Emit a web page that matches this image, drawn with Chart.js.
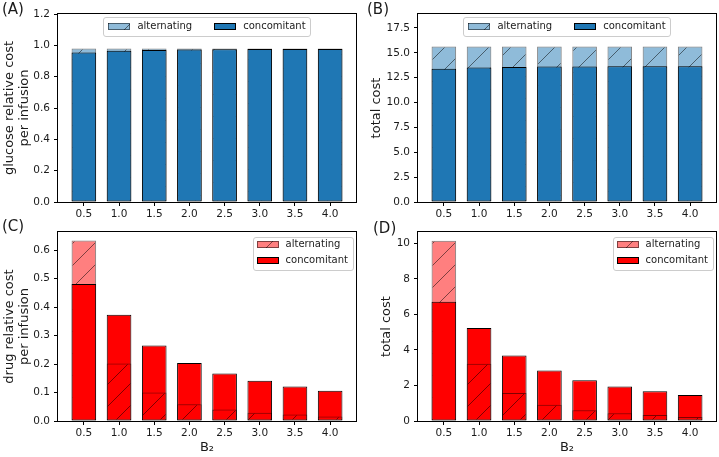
<!DOCTYPE html>
<html>
<head>
<meta charset="utf-8">
<script src="https://cdn.jsdelivr.net/npm/chart.js@4.4.1/dist/chart.umd.min.js"></script>
<style>
html,body{margin:0;padding:0;background:#fff;}
#wrap{position:relative;width:719px;height:457px;overflow:hidden;font-family:"DejaVu Sans",sans-serif;}
canvas{position:absolute;}
.lbl{position:absolute;font-size:15px;line-height:1;color:#1a1a1a;font-family:"DejaVu Sans",sans-serif;z-index:5;}
</style>
</head>
<body>
<div id="wrap">
  <canvas id="cA" width="360" height="228" style="left:0;top:0;width:360px;height:228px"></canvas>
  <canvas id="cB" width="359" height="228" style="left:360px;top:0;width:359px;height:228px"></canvas>
  <canvas id="cC" width="360" height="229" style="left:0;top:228px;width:360px;height:229px"></canvas>
  <canvas id="cD" width="359" height="229" style="left:360px;top:228px;width:359px;height:229px"></canvas>
  <div class="lbl" style="left:2px;top:2px">(A)</div>
  <div class="lbl" style="left:367px;top:2px">(B)</div>
  <div class="lbl" style="left:2px;top:219px">(C)</div>
  <div class="lbl" style="left:373px;top:221px">(D)</div>
</div>
<script>
// ---------------- data ----------------
const b2Values = [0.5, 1.0, 1.5, 2.0, 2.5, 3.0, 3.5, 4.0];
const seriesLabels = ['alternating', 'concomitant'];

const glucoseAlternating = [0.979, 0.979, 0.979, 0.979, 0.979, 0.979, 0.979, 0.979];
const glucoseConcomitant = [0.955, 0.966, 0.971, 0.973, 0.975, 0.976, 0.977, 0.977];

const glucoseTotalAlternating = [15.64, 15.64, 15.64, 15.64, 15.64, 15.64, 15.64, 15.64];
const glucoseTotalConcomitant = [13.39, 13.52, 13.56, 13.61, 13.63, 13.64, 13.64, 13.65];

const drugAlternating = [0.634, 0.202, 0.100, 0.059, 0.040, 0.029, 0.0225, 0.0155];
const drugConcomitant = [0.481, 0.373, 0.265, 0.204, 0.167, 0.141, 0.121, 0.106];

const drugTotalAlternating = [10.15, 3.22, 1.58, 0.92, 0.60, 0.44, 0.34, 0.23];
const drugTotalConcomitant = [6.72, 5.23, 3.69, 2.84, 2.29, 1.94, 1.67, 1.47];

const yTicksA = [0, 0.2, 0.4, 0.6, 0.8, 1.0, 1.2];
const yTicksB = [0, 2.5, 5, 7.5, 10, 12.5, 15, 17.5];
const yTicksC = [0, 0.1, 0.2, 0.3, 0.4, 0.5, 0.6];
const yTicksD = [0, 2, 4, 6, 8, 10];
const xTickValues = b2Values;
const xAxisTitle = 'B\u2082';

// ---------------- style ----------------
Chart.defaults.font.family = '"DejaVu Sans", sans-serif';
Chart.defaults.color = '#1a1a1a';

const X_MIN = 0.1325, X_MAX = 4.3675;

function hatch(fill, line) {
  const s = 22;
  const c = document.createElement('canvas');
  c.width = s; c.height = s;
  const g = c.getContext('2d');
  g.fillStyle = fill; g.fillRect(0, 0, s, s);
  g.strokeStyle = line; g.lineWidth = 1;
  g.beginPath();
  g.moveTo(-1, s + 1); g.lineTo(s + 1, -1);
  g.moveTo(-1, 1); g.lineTo(1, -1);
  g.moveTo(s - 1, s + 1); g.lineTo(s + 1, s - 1);
  g.stroke();
  return g.createPattern(c, 'repeat');
}

// In each category the taller bar is painted first, the shorter one over it.
const tallFirst = {
  id: 'tallFirst',
  beforeDatasetsDraw(chart) {
    const ctx = chart.ctx, a = chart.chartArea;
    const els = [];
    chart.getSortedVisibleDatasetMetas().forEach(m => {
      m.data.forEach((el, i) => els.push({el: el, i: i, h: Math.abs(el.base - el.y)}));
    });
    els.sort((p, q) => p.i - q.i || q.h - p.h);
    ctx.save();
    ctx.beginPath();
    ctx.rect(a.left, a.top, a.right - a.left, a.bottom - a.top);
    ctx.clip();
    els.forEach(o => o.el.draw(ctx, a));
    ctx.restore();
    return false;
  }
};

const boxLegend = {
  id: 'boxLegend',
  afterDraw(chart, args, opts) {
    const ctx = chart.ctx, a = chart.chartArea;
    const items = chart.data.datasets.map(d => ({text: d.label, fill: d.backgroundColor, stroke: d.borderColor}));
    ctx.save();
    ctx.font = '10px "DejaVu Sans"';
    const swW = 22, swH = 7, gap = 7;
    const tw = items.map(i => ctx.measureText(i.text).width);
    let x0, y0, w, h, pos = [];
    if (opts.mode === 'row') {
      const colGap = 22, padL = 5, padR = 5;
      w = padL + padR + tw.reduce((s, t) => s + swW + gap + t, 0) + colGap * (items.length - 1);
      h = 19;
      x0 = (a.left + a.right) / 2 - w / 2;
      y0 = a.top + 3;
      let x = x0 + padL;
      items.forEach((it, i) => { pos.push([x, y0 + 9.5]); x += swW + gap + tw[i] + colGap; });
    } else {
      const padL = 4, padR = 5;
      w = padL + swW + gap + Math.max(...tw) + padR;
      h = 33;
      x0 = a.right - 3 - w;
      y0 = a.top + 5;
      items.forEach((it, i) => pos.push([x0 + padL, y0 + 7.5 + 16 * i]));
    }
    ctx.beginPath();
    ctx.roundRect(Math.round(x0) + 0.5, Math.round(y0) + 0.5, Math.round(w), Math.round(h), 2.5);
    ctx.fillStyle = 'rgba(255,255,255,0.8)';
    ctx.fill();
    ctx.strokeStyle = '#cccccc';
    ctx.lineWidth = 1;
    ctx.stroke();
    items.forEach((it, i) => {
      const [x, yc] = pos[i];
      const sx = Math.round(x), sy = Math.round(yc - swH / 2);
      ctx.fillStyle = it.fill;
      ctx.fillRect(sx, sy, swW, swH);
      ctx.strokeStyle = it.stroke;
      ctx.strokeRect(sx + 0.5, sy + 0.5, swW - 1, swH - 1);
      ctx.fillStyle = '#1a1a1a';
      ctx.textBaseline = 'middle';
      ctx.textAlign = 'left';
      ctx.fillText(it.text, x + swW + gap, yc);
    });
    ctx.restore();
  }
};

const frame = {
  id: 'frame',
  afterDraw(chart) {
    const ctx = chart.ctx, a = chart.chartArea;
    ctx.save();
    ctx.strokeStyle = '#000';
    ctx.lineWidth = 1;
    ctx.strokeRect(Math.round(a.left) - 0.5, Math.round(a.top) - 0.5, Math.round(a.right - a.left) + 1, Math.round(a.bottom - a.top) + 1);
    ctx.restore();
  }
};

function toXY(vals) { return b2Values.map((x, i) => ({x: x, y: vals[i]})); }

function makeChart(p) {
  return new Chart(document.getElementById(p.id), {
    type: 'bar',
    data: {
      datasets: [
        {label: seriesLabels[0], data: toXY(p.alt), backgroundColor: hatch(p.altColor, 'rgba(0,0,0,0.5)'),
         borderColor: 'rgba(0,0,0,0.5)', borderWidth: 1, borderSkipped: false, grouped: false,
         barPercentage: 0.7, categoryPercentage: 1},
        {label: seriesLabels[1], data: toXY(p.conc), backgroundColor: p.color,
         borderColor: '#000', borderWidth: 1, borderSkipped: false, grouped: false,
         barPercentage: 0.7, categoryPercentage: 1}
      ]
    },
    options: {
      responsive: false,
      animation: false,
      events: [],
      layout: {padding: {left: 0, top: p.padTop, right: p.padRight, bottom: 0}},
      plugins: {legend: {display: false}, tooltip: {enabled: false}, boxLegend: {mode: p.legend}},
      scales: {
        x: {
          type: 'linear', min: X_MIN, max: X_MAX, offset: false,
          grid: {offset: false, drawOnChartArea: false, drawTicks: true, tickLength: 4, color: '#000', lineWidth: 1},
          border: {display: false},
          ticks: {font: {size: 10.5}, padding: 2, maxRotation: 0, autoSkip: false,
                  callback: v => Number(v).toFixed(1)},
          afterBuildTicks: s => { s.ticks = xTickValues.map(v => ({value: v})); },
          afterFit: s => { s.height = p.xH; s.paddingLeft = 0; s.paddingRight = 0; },
          title: p.xTitle ? {display: true, text: p.xTitle, font: {size: 13, lineHeight: 1.15}, padding: {top: 0, bottom: 1.5}, color: '#1a1a1a'} : {display: false}
        },
        y: {
          type: 'linear', min: 0, max: p.yMax,
          grid: {drawOnChartArea: false, drawTicks: true, tickLength: 4, color: '#000', lineWidth: 1},
          border: {display: false},
          ticks: {font: {size: 10.5}, padding: 4, autoSkip: false,
                  callback: v => Number(v).toFixed(p.dec)},
          afterBuildTicks: s => { s.ticks = p.yTicks.map(v => ({value: v})); },
          afterFit: s => { s.width = 58; s.paddingTop = 0; s.paddingBottom = 0; },
          title: {display: true, text: p.yTitle, font: {size: 13, lineHeight: 1.15}, padding: {top: p.yTitlePad, bottom: 0}, color: '#1a1a1a'}
        }
      }
    },
    plugins: [tallFirst, frame, boxLegend]
  });
}

const blue = '#1f77b4', blueAlt = 'rgba(31,119,180,0.5)';
const red = '#ff0000', redAlt = 'rgba(255,0,0,0.5)';

makeChart({id: 'cA', alt: glucoseAlternating, conc: glucoseConcomitant, color: blue, altColor: blueAlt,
  yMax: 1.2, yTicks: yTicksA, dec: 1, yTitle: ['glucose relative cost', 'per infusion'], yTitlePad: 2.5,
  xTitle: null, legend: 'row', padTop: 14, padRight: 4, xH: 26});
makeChart({id: 'cB', alt: glucoseTotalAlternating, conc: glucoseTotalConcomitant, color: blue, altColor: blueAlt,
  yMax: 18.9, yTicks: yTicksB, dec: 1, yTitle: 'total cost', yTitlePad: 9.5,
  xTitle: null, legend: 'row', padTop: 14, padRight: 3, xH: 26});
makeChart({id: 'cC', alt: drugAlternating, conc: drugConcomitant, color: red, altColor: redAlt,
  yMax: 0.664, yTicks: yTicksC, dec: 1, yTitle: ['drug relative cost', 'per infusion'], yTitlePad: 2.5,
  xTitle: xAxisTitle, legend: 'col', padTop: 4, padRight: 4, xH: 36});
makeChart({id: 'cD', alt: drugTotalAlternating, conc: drugTotalConcomitant, color: red, altColor: redAlt,
  yMax: 10.64, yTicks: yTicksD, dec: 0, yTitle: 'total cost', yTitlePad: 19.5,
  xTitle: xAxisTitle, legend: 'col', padTop: 4, padRight: 3, xH: 36});
</script>
</body>
</html>
